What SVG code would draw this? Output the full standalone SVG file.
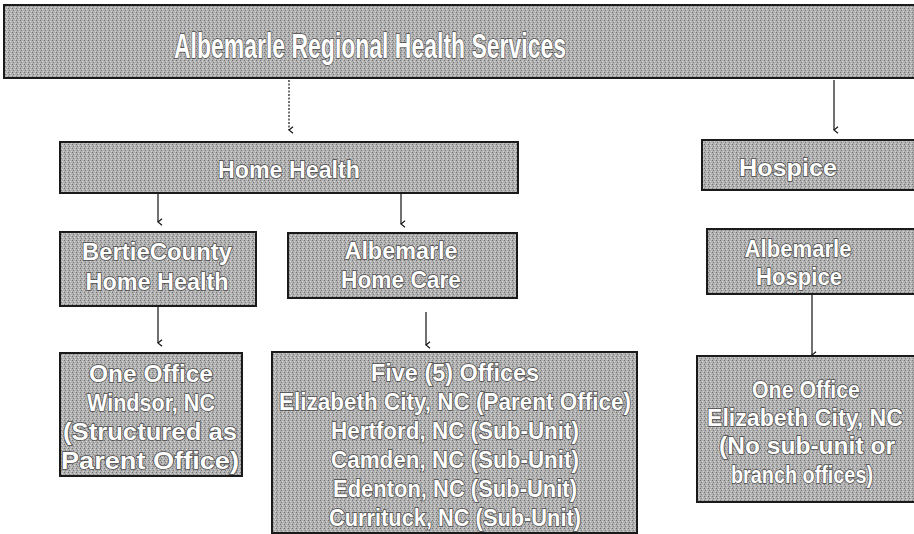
<svg xmlns="http://www.w3.org/2000/svg" width="914" height="534" viewBox="0 0 914 534">
<style>
.box{fill:url(#stip);stroke:#1a1a1a;stroke-width:2}
.t{font-family:"Liberation Sans","DejaVu Sans",sans-serif;font-weight:bold;fill:#ffffff;stroke:#4a4a4a;stroke-width:1.5;paint-order:stroke;text-anchor:middle}
.t22{font-size:23px}
.t32{font-size:35px}
.ln{stroke:#111;stroke-width:1.2;fill:none;marker-end:url(#ah)}
</style>
<defs>
<pattern id="stip" width="4" height="4" patternUnits="userSpaceOnUse">
<rect width="4" height="4" fill="#b0b0b0"/>
<rect x="0" y="0" width="1" height="1" fill="#727272"/>
<rect x="2" y="1" width="1" height="1" fill="#dadada"/>
<rect x="1" y="2" width="1" height="1" fill="#7e7e7e"/>
<rect x="3" y="3" width="1" height="1" fill="#d2d2d2"/>
</pattern>
<marker id="ah" viewBox="0 0 10 10" refX="5" refY="9" markerWidth="8" markerHeight="8" markerUnits="userSpaceOnUse" orient="auto-start-reverse">
<path d="M1,4 L5,9 L9,4" fill="none" stroke="#111" stroke-width="1.4"/>
</marker>
</defs>
<rect width="914" height="534" fill="#ffffff"/>

<g id="connectors">
<line class="ln" x1="289" y1="80" x2="289" y2="130" stroke-dasharray="2 1.5"/>
<line class="ln" x1="834" y1="80" x2="834" y2="130"/>
<line class="ln" x1="158" y1="193" x2="158" y2="222"/>
<line class="ln" x1="401" y1="193" x2="401" y2="224"/>
<line class="ln" x1="158" y1="306" x2="158" y2="343"/>
<line class="ln" x1="426" y1="312" x2="426" y2="345"/>
<line class="ln" x1="812" y1="295" x2="812" y2="355"/>
</g>

<g id="n-arhs">
<rect class="box" x="4" y="5" width="912" height="73"/>
<text class="t t32" x="370" y="58" textLength="392" lengthAdjust="spacingAndGlyphs">Albemarle Regional Health Services</text>
</g>

<g id="n-homehealth">
<rect class="box" x="60" y="142" width="458" height="51"/>
<text class="t t22" x="289" y="178" textLength="142" lengthAdjust="spacingAndGlyphs">Home Health</text>
</g>

<g id="n-hospice">
<rect class="box" x="702" y="140" width="216" height="50"/>
<text class="t t22" x="788" y="176" textLength="98" lengthAdjust="spacingAndGlyphs">Hospice</text>
</g>

<g id="n-bertie">
<rect class="box" x="60" y="232" width="196" height="74"/>
<text class="t t22" x="157" y="260" textLength="150" lengthAdjust="spacingAndGlyphs">BertieCounty</text>
<text class="t t22" x="157" y="290" textLength="143" lengthAdjust="spacingAndGlyphs">Home Health</text>
</g>

<g id="n-homecare">
<rect class="box" x="288" y="233" width="229" height="65"/>
<text class="t t22" x="401" y="259" textLength="113" lengthAdjust="spacingAndGlyphs">Albemarle</text>
<text class="t t22" x="401" y="288" textLength="120" lengthAdjust="spacingAndGlyphs">Home Care</text>
</g>

<g id="n-albhospice">
<rect class="box" x="707" y="229" width="211" height="65"/>
<text class="t t22" x="798" y="257" textLength="107" lengthAdjust="spacingAndGlyphs">Albemarle</text>
<text class="t t22" x="799" y="285" textLength="86" lengthAdjust="spacingAndGlyphs">Hospice</text>
</g>

<g id="n-windsor">
<rect class="box" x="60" y="353" width="182" height="123"/>
<text class="t t22" x="151" y="382" textLength="124" lengthAdjust="spacingAndGlyphs">One Office</text>
<text class="t t22" x="151" y="411" textLength="128" lengthAdjust="spacingAndGlyphs">Windsor, NC</text>
<text class="t t22" x="150" y="440" textLength="174" lengthAdjust="spacingAndGlyphs">(Structured as</text>
<text class="t t22" x="150" y="469" textLength="178" lengthAdjust="spacingAndGlyphs">Parent Office)</text>
</g>

<g id="n-five">
<rect class="box" x="272" y="352" width="365" height="181"/>
<text class="t t22" x="455" y="381" textLength="168" lengthAdjust="spacingAndGlyphs">Five (5) Offices</text>
<text class="t t22" x="455" y="410" textLength="352" lengthAdjust="spacingAndGlyphs">Elizabeth City, NC (Parent Office)</text>
<text class="t t22" x="455" y="439" textLength="248" lengthAdjust="spacingAndGlyphs">Hertford, NC (Sub-Unit)</text>
<text class="t t22" x="455" y="468" textLength="248" lengthAdjust="spacingAndGlyphs">Camden, NC (Sub-Unit)</text>
<text class="t t22" x="455" y="497" textLength="244" lengthAdjust="spacingAndGlyphs">Edenton, NC (Sub-Unit)</text>
<text class="t t22" x="455" y="526" textLength="252" lengthAdjust="spacingAndGlyphs">Currituck, NC (Sub-Unit)</text>
</g>

<g id="n-ecoffice">
<rect class="box" x="697" y="356" width="221" height="146"/>
<text class="t t22" x="806" y="398" textLength="108" lengthAdjust="spacingAndGlyphs">One Office</text>
<text class="t t22" x="805" y="426" textLength="196" lengthAdjust="spacingAndGlyphs">Elizabeth City, NC</text>
<text class="t t22" x="807" y="454" textLength="176" lengthAdjust="spacingAndGlyphs">(No sub-unit or</text>
<text class="t t22" x="802" y="483" textLength="142" lengthAdjust="spacingAndGlyphs">branch offices)</text>
</g>
</svg>
